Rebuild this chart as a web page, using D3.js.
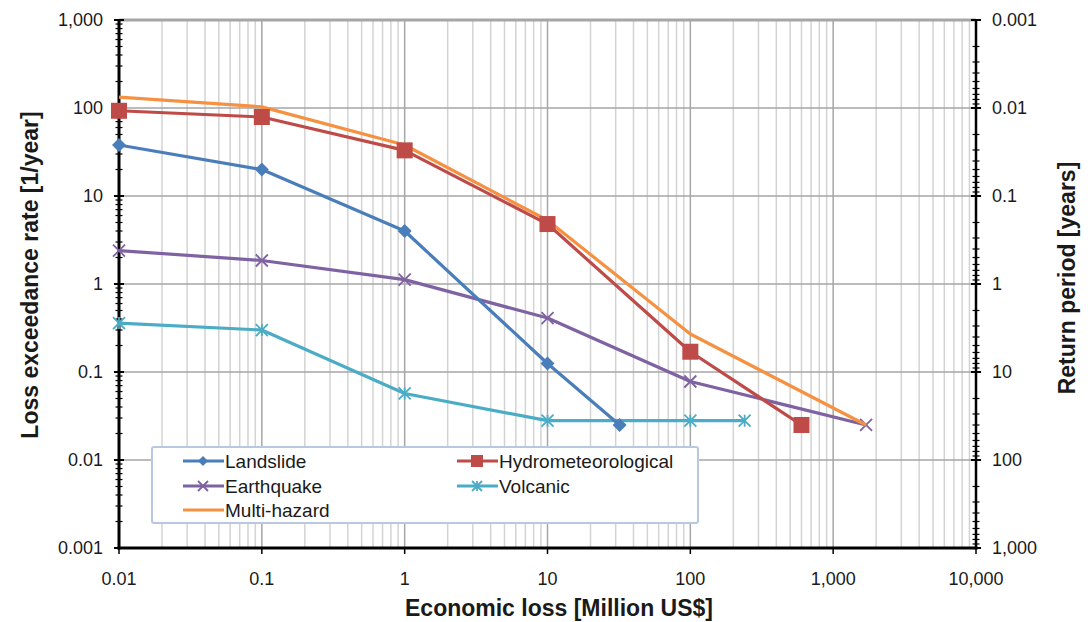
<!DOCTYPE html>
<html><head><meta charset="utf-8">
<script src="https://cdn.jsdelivr.net/npm/d3@7"></script>
<style>
body{margin:0;background:#fff;}
svg{display:block;font-family:"Liberation Sans",Arial,sans-serif;}
</style></head>
<body><svg id="c" width="1090" height="622"></svg>
<script>
// ---- data ----
const xTicks = [0.01, 0.1, 1, 10, 100, 1000, 10000];
const xTickLabels = ["0.01", "0.1", "1", "10", "100", "1,000", "10,000"];
const yTicks = [1000, 100, 10, 1, 0.1, 0.01, 0.001];
const yTickLabels = ["1,000", "100", "10", "1", "0.1", "0.01", "0.001"];
const rpTicks = [0.001, 0.01, 0.1, 1, 10, 100, 1000];
const rpTickLabels = ["0.001", "0.01", "0.1", "1", "10", "100", "1,000"];

const seriesNames = ["Landslide", "Hydrometeorological", "Earthquake", "Volcanic", "Multi-hazard"];
const landslideX = [0.01, 0.1, 1, 10, 32];
const landslideY = [38, 20, 4, 0.125, 0.025];
const hydroX = [0.01, 0.1, 1, 10, 100, 600];
const hydroY = [93, 79, 33, 4.8, 0.17, 0.025];
const quakeX = [0.01, 0.1, 1, 10, 100, 1700];
const quakeY = [2.4, 1.85, 1.12, 0.41, 0.078, 0.025];
const volcX = [0.01, 0.1, 1, 10, 100, 240];
const volcY = [0.36, 0.30, 0.057, 0.028, 0.028, 0.028];
const multiX = [0.01, 0.1, 1, 10, 100, 1700];
const multiY = [133, 103, 38, 5.3, 0.27, 0.025];

// ---- layout ----
const L = 119, R = 976, T = 20, B = 548;
const svg = d3.select("#c");
const x = d3.scaleLog().domain([0.01, 10000]).range([L, R]);
const y = d3.scaleLog().domain([0.001, 1000]).range([B, T]);
const yr = d3.scaleLog().domain([0.001, 1000]).range([T, B]); // return period

const series = [
  {name: seriesNames[0], xs: landslideX, ys: landslideY, color: "#4a7ebb", marker: "diamond"},
  {name: seriesNames[1], xs: hydroX, ys: hydroY, color: "#be4b48", marker: "square"},
  {name: seriesNames[2], xs: quakeX, ys: quakeY, color: "#7e62a1", marker: "x"},
  {name: seriesNames[3], xs: volcX, ys: volcY, color: "#4bacc6", marker: "star"},
  {name: seriesNames[4], xs: multiX, ys: multiY, color: "#f59141", marker: "none"}
];

function minors(lo, hi) {
  const out = [];
  for (let d = lo; d < hi; d *= 10) for (let k = 2; k <= 9; k++) out.push(d * k);
  return out;
}

// ---- grid ----
const grid = svg.append("g");
grid.selectAll("line.vmin").data(minors(0.01, 10000)).enter().append("line")
  .attr("x1", d => x(d)).attr("x2", d => x(d)).attr("y1", T).attr("y2", B)
  .attr("stroke", "#d3d3d3").attr("stroke-width", 1.5);
grid.selectAll("line.vmaj").data(xTicks).enter().append("line")
  .attr("x1", d => x(d)).attr("x2", d => x(d)).attr("y1", T).attr("y2", B)
  .attr("stroke", "#a6a6a6").attr("stroke-width", 1.5);
grid.selectAll("line.hmaj").data(yTicks).enter().append("line")
  .attr("x1", L).attr("x2", R).attr("y1", d => y(d)).attr("y2", d => y(d))
  .attr("stroke", "#a6a6a6").attr("stroke-width", d => d === 1000 ? 3 : 1.5);

// ---- axes ----
const ax = svg.append("g");
ax.append("line").attr("x1", L).attr("x2", L).attr("y1", T).attr("y2", B + 1.5)
  .attr("stroke", "#000").attr("stroke-width", 3);
ax.selectAll("line.lmin").data(minors(0.001, 1000)).enter().append("line")
  .attr("x1", L - 3.5).attr("x2", L + 3.5).attr("y1", d => y(d)).attr("y2", d => y(d))
  .attr("stroke", "#000").attr("stroke-width", 1.2);
ax.selectAll("line.lmaj").data(yTicks).enter().append("line")
  .attr("x1", L - 5).attr("x2", L + 5).attr("y1", d => y(d)).attr("y2", d => y(d))
  .attr("stroke", "#000").attr("stroke-width", 2);
ax.append("line").attr("x1", R).attr("x2", R).attr("y1", T).attr("y2", B + 1.5)
  .attr("stroke", "#000").attr("stroke-width", 2.5);
ax.selectAll("line.rmin").data(minors(0.001, 1000)).enter().append("line")
  .attr("x1", R - 3.5).attr("x2", R + 3.5).attr("y1", d => yr(d)).attr("y2", d => yr(d))
  .attr("stroke", "#000").attr("stroke-width", 1.2);
ax.selectAll("line.rmaj").data(rpTicks).enter().append("line")
  .attr("x1", R - 5).attr("x2", R + 5).attr("y1", d => yr(d)).attr("y2", d => yr(d))
  .attr("stroke", "#000").attr("stroke-width", 2);
ax.append("line").attr("x1", L - 1.5).attr("x2", R + 1.5).attr("y1", B).attr("y2", B)
  .attr("stroke", "#000").attr("stroke-width", 3);
ax.selectAll("line.bmaj").data(xTicks).enter().append("line")
  .attr("x1", d => x(d)).attr("x2", d => x(d)).attr("y1", B).attr("y2", B + 6)
  .attr("stroke", "#000").attr("stroke-width", 1.5);

// tick labels
const tl = svg.append("g").attr("font-size", 18).attr("fill", "#1a1a1a");
tl.selectAll("text.xl").data(xTicks).enter().append("text")
  .attr("x", d => x(d)).attr("y", 585).attr("text-anchor", "middle")
  .text((d, i) => xTickLabels[i]);
tl.selectAll("text.yl").data(yTicks).enter().append("text")
  .attr("x", 103).attr("y", d => y(d) + 6).attr("text-anchor", "end")
  .text((d, i) => yTickLabels[i]);
tl.selectAll("text.rl").data(rpTicks).enter().append("text")
  .attr("x", 992).attr("y", d => yr(d) + 6).attr("text-anchor", "start")
  .text((d, i) => rpTickLabels[i]);

// titles
svg.append("text").attr("x", 559).attr("y", 616).attr("text-anchor", "middle")
  .attr("font-size", 23).attr("font-weight", "bold").attr("fill", "#1a1a1a")
  .text("Economic loss [Million US$]");
svg.append("text").attr("transform", "translate(38,275) rotate(-90)").attr("text-anchor", "middle")
  .attr("font-size", 23).attr("font-weight", "bold").attr("fill", "#1a1a1a")
  .text("Loss exceedance rate [1/year]");
svg.append("text").attr("transform", "translate(1075,278) rotate(-90)").attr("text-anchor", "middle")
  .attr("font-size", 23).attr("font-weight", "bold").attr("fill", "#1a1a1a")
  .text("Return period [years]");

// ---- markers ----
function drawMarker(g, type, cx, cy, color, s) {
  if (type === "diamond") {
    g.append("path").attr("d", `M${cx},${cy - s}L${cx + s},${cy}L${cx},${cy + s}L${cx - s},${cy}Z`)
      .attr("fill", color);
  } else if (type === "square") {
    g.append("rect").attr("x", cx - s).attr("y", cy - s).attr("width", 2 * s).attr("height", 2 * s)
      .attr("fill", color);
  } else if (type === "x" || type === "star") {
    let d = `M${cx - s},${cy - s}L${cx + s},${cy + s}M${cx - s},${cy + s}L${cx + s},${cy - s}`;
    if (type === "star") d += `M${cx},${cy - s}L${cx},${cy + s}`;
    g.append("path").attr("d", d).attr("stroke", color).attr("stroke-width", 1.8).attr("fill", "none");
  }
}
const msize = {diamond: 7, square: 8, x: 6, star: 6, none: 0};

// ---- series ----
const line = d3.line().x(d => x(d[0])).y(d => y(d[1]));
const sg = svg.append("g");
const order = [3, 2, 0, 4, 1];
order.forEach(i => {
  const s = series[i];
  const pts = s.xs.map((v, j) => [v, s.ys[j]]);
  sg.append("path").attr("d", line(pts)).attr("fill", "none")
    .attr("stroke", s.color).attr("stroke-width", 3.2).attr("stroke-linejoin", "round");
  pts.forEach(p => drawMarker(sg, s.marker, x(p[0]), y(p[1]), s.color, msize[s.marker]));
});

// ---- legend ----
const lg = svg.append("g");
lg.append("rect").attr("x", 152).attr("y", 447).attr("width", 546).attr("height", 76)
  .attr("fill", "#fff").attr("stroke", "#b8c8e0").attr("stroke-width", 2).attr("rx", 2);
const legPos = [[183, 461], [457, 461], [183, 486], [457, 486], [183, 510]];
series.forEach((s, i) => {
  const [lx, ly] = legPos[i];
  lg.append("line").attr("x1", lx).attr("x2", lx + 41).attr("y1", ly).attr("y2", ly)
    .attr("stroke", s.color).attr("stroke-width", 3);
  drawMarker(lg, s.marker, lx + 20, ly, s.color, s.marker === "square" ? 6 : 5);
  lg.append("text").attr("x", lx + 42).attr("y", ly + 6.5).attr("font-size", 19)
    .attr("fill", "#1a1a1a").text(s.name);
});
</script></body></html>
